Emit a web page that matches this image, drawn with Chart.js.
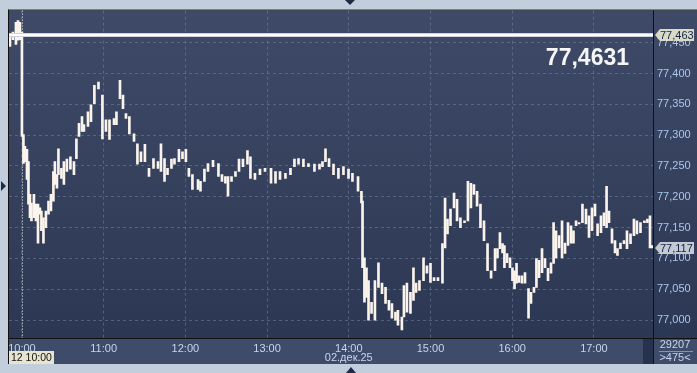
<!DOCTYPE html>
<html>
<head>
<meta charset="utf-8">
<script src="https://cdn.jsdelivr.net/npm/chart.js@4.4.1/dist/chart.umd.min.js"></script>
<style>
html, body { margin: 0; padding: 0; background: #c2cedc; overflow: hidden; }
canvas { display: block; }
</style>
</head>
<body>
<canvas id="myChart" width="697" height="373"></canvas>
<script>
// minutes after 10:00 for each high/low bar
var barMinutes = [-8.8, -6.6, -4.4, -2.9, -1.5, 0, 1.1, 2.2, 3.7, 4.8, 5.9, 7.0, 8.8, 10.3, 11.8, 13.2, 14.3, 15.8, 17.6, 19.5,
    21.3, 23.1, 24.2, 25.7, 26.8, 29.0, 30.8, 33.0, 35.6, 38.2, 40.0, 41.9, 44.1, 45.5, 48.5, 50.7, 53.2, 56.2, 59.1, 61.7,
    64.3, 67.6, 69.4, 72.0, 74.2, 76.4, 78.9, 82.3, 84.8, 87.4, 90.3, 93.3, 96.6, 99.9, 102.1, 104.7, 106.9, 109.8, 112.0, 115.3,
    117.9, 120.4, 122.6, 125.2, 129.3, 131.1, 134.0, 136.6, 140.3, 144.3, 146.9, 149.4, 151.3, 153.9, 156.8, 159.4, 162.3, 165.6, 167.8, 171.1,
    174.8, 178.5, 182.9, 186.2, 189.5, 193.5, 197.2, 200.1, 203.1, 206.7, 210.4, 214.8, 218.5, 220.7, 222.9, 225.5, 228.8, 232.4, 236.1, 239.8,
    242.7, 246.8, 249.3, 250.1, 251.5, 253.0, 254.5, 256.7, 259.2, 261.8, 264.4, 267.0, 269.5, 271.7, 274.3, 276.1, 279.0, 280.5, 282.7, 285.3,
    287.5, 289.4, 291.9, 294.9, 297.4, 300.0, 302.6, 305.5, 308.8, 310.7, 312.5, 314.7, 317.3, 319.5, 322.0, 325.0, 327.5, 329.7, 331.9, 334.2,
    336.7, 339.3, 341.9, 344.5, 347.4, 349.2, 351.0, 352.9, 354.3, 356.2, 358.4, 360.2, 361.7, 363.2, 365.0, 367.2, 369.4, 372.0, 373.8, 376.0,
    377.8, 379.7, 381.9, 384.1, 386.3, 388.5, 390.4, 392.2, 394.4, 396.6, 398.8, 401.0, 403.2, 405.0, 406.9, 409.1, 411.6, 414.2, 416.4, 418.6,
    420.8, 422.7, 425.2, 427.4, 429.3, 431.1, 433.3, 435.5, 437.3, 439.5, 442.1, 444.3, 446.9, 449.4, 451.6, 454.2, 457.1, 459.3, 461.2, 462.7];
var barLows = [77.444, 77.455, 77.447, 77.454, 77.455, 77.298, 77.254, 77.257, 77.228, 77.188, 77.166, 77.161, 77.166, 77.161, 77.125, 77.172, 77.145, 77.125, 77.150, 77.172,
    77.177, 77.193, 77.220, 77.214, 77.236, 77.230, 77.220, 77.241, 77.245, 77.236, 77.262, 77.298, 77.306, 77.306, 77.314, 77.322, 77.351, 77.375, 77.294, 77.306,
    77.293, 77.317, 77.317, 77.359, 77.343, 77.327, 77.302, 77.290, 77.253, 77.257, 77.257, 77.233, 77.246, 77.246, 77.241, 77.225, 77.236, 77.246, 77.253, 77.257,
    77.262, 77.257, 77.233, 77.212, 77.212, 77.209, 77.225, 77.241, 77.249, 77.233, 77.225, 77.222, 77.201, 77.225, 77.233, 77.241, 77.249, 77.253, 77.230, 77.228,
    77.236, 77.241, 77.222, 77.222, 77.228, 77.230, 77.236, 77.249, 77.253, 77.249, 77.249, 77.241, 77.245, 77.249, 77.257, 77.249, 77.236, 77.230, 77.236, 77.230,
    77.225, 77.209, 77.190, 77.085, 77.029, 77.037, 77.000, 77.011, 77.000, 77.053, 77.043, 77.027, 77.016, 77.003, 77.000, 76.992, 76.984, 77.005, 77.013, 77.011,
    77.032, 77.045, 77.048, 77.064, 77.076, 77.061, 77.064, 77.064, 77.060, 77.117, 77.140, 77.153, 77.182, 77.161, 77.150, 77.158, 77.161, 77.182, 77.204, 77.185,
    77.150, 77.129, 77.080, 77.068, 77.080, 77.101, 77.116, 77.109, 77.085, 77.093, 77.085, 77.064, 77.051, 77.060, 77.061, 77.060, 77.060, 77.003, 77.027, 77.045,
    77.053, 77.069, 77.077, 77.085, 77.064, 77.076, 77.092, 77.101, 77.117, 77.101, 77.108, 77.121, 77.125, 77.125, 77.153, 77.156, 77.158, 77.156, 77.134, 77.145,
    77.169, 77.137, 77.142, 77.153, 77.150, 77.158, 77.125, 77.109, 77.105, 77.116, 77.124, 77.116, 77.124, 77.137, 77.140, 77.142, 77.158, 77.158, 77.117, 77.117];
var barHighs = [77.465, 77.467, 77.483, 77.486, 77.483, 77.467, 77.301, 77.282, 77.277, 77.257, 77.204, 77.190, 77.204, 77.188, 77.188, 77.182, 77.177, 77.166, 77.177, 77.193,
    77.204, 77.241, 77.257, 77.236, 77.278, 77.246, 77.257, 77.261, 77.265, 77.257, 77.294, 77.319, 77.330, 77.317, 77.338, 77.349, 77.381, 77.386, 77.365, 77.325,
    77.325, 77.327, 77.338, 77.389, 77.365, 77.335, 77.330, 77.302, 77.286, 77.273, 77.285, 77.246, 77.262, 77.257, 77.286, 77.262, 77.246, 77.261, 77.262, 77.277,
    77.273, 77.277, 77.246, 77.236, 77.228, 77.225, 77.245, 77.254, 77.259, 77.254, 77.236, 77.233, 77.233, 77.233, 77.241, 77.261, 77.261, 77.275, 77.265, 77.238,
    77.245, 77.246, 77.246, 77.241, 77.241, 77.238, 77.246, 77.261, 77.262, 77.261, 77.254, 77.253, 77.253, 77.257, 77.278, 77.262, 77.253, 77.246, 77.249, 77.245,
    77.238, 77.233, 77.209, 77.193, 77.101, 77.085, 77.064, 77.029, 77.064, 77.093, 77.060, 77.053, 77.032, 77.027, 77.013, 77.016, 77.005, 77.056, 77.060, 77.045,
    77.085, 77.060, 77.064, 77.101, 77.088, 77.092, 77.069, 77.069, 77.124, 77.198, 77.164, 77.180, 77.206, 77.196, 77.166, 77.161, 77.225, 77.222, 77.220, 77.209,
    77.188, 77.161, 77.124, 77.080, 77.116, 77.116, 77.142, 77.124, 77.121, 77.108, 77.101, 77.085, 77.080, 77.092, 77.072, 77.072, 77.077, 77.051, 77.045, 77.053,
    77.100, 77.097, 77.116, 77.100, 77.084, 77.093, 77.158, 77.145, 77.137, 77.161, 77.125, 77.158, 77.153, 77.145, 77.161, 77.158, 77.188, 77.180, 77.169, 77.182,
    77.188, 77.156, 77.169, 77.174, 77.217, 77.177, 77.148, 77.129, 77.116, 77.125, 77.129, 77.145, 77.140, 77.164, 77.161, 77.158, 77.161, 77.164, 77.169, 77.121];

var yTicks = [77.000, 77.050, 77.100, 77.150, 77.200, 77.250, 77.300, 77.350, 77.400, 77.450];
var hourMinutes = [0, 60, 120, 180, 240, 300, 360, 420];
var hourLabels = ['10:00', '11:00', '12:00', '13:00', '14:00', '15:00', '16:00', '17:00'];
var priceLevel = 77.463;
var lastPrice = 77.117;
var bigPrice = '77,4631';
var dateLabel = '02.дек.25';
var cursorLabel = '12 10:00';
var volumeLabel = '29207';
var zoomLabel = '>475<';

function fmt(v) {
    return v.toFixed(3).replace('.', ',');
}

function tag(c, x, y, text, bg) {
    c.beginPath();
    c.moveTo(x, y);
    c.lineTo(x + 5, y - 6);
    c.lineTo(x + 39, y - 6);
    c.lineTo(x + 39, y + 6);
    c.lineTo(x + 5, y + 6);
    c.closePath();
    c.fillStyle = bg;
    c.fill();
    c.fillStyle = '#14224a';
    c.font = '11px "Liberation Sans"';
    c.textAlign = 'left';
    c.textBaseline = 'middle';
    c.fillText(text, x + 5, y + 1);
}

function tri(c, pts, color) {
    c.beginPath();
    c.moveTo(pts[0], pts[1]);
    c.lineTo(pts[2], pts[3]);
    c.lineTo(pts[4], pts[5]);
    c.closePath();
    c.fillStyle = color;
    c.fill();
}

var frame = {
    id: 'frame',
    beforeDraw: function(chart) {
        var c = chart.ctx, a = chart.chartArea, w = chart.width;
        c.save();
        c.fillStyle = '#c2cedc';
        c.fillRect(0, 0, w, chart.height);
        var g = c.createLinearGradient(0, a.top, 0, a.bottom);
        g.addColorStop(0, '#3e4a67');
        g.addColorStop(1, '#2c3853');
        c.fillStyle = g;
        c.fillRect(a.left - 1, a.top, w - a.left + 1, a.bottom - a.top);
        c.fillStyle = '#3f4c69';
        c.fillRect(a.left - 1, a.bottom, w - a.left + 1, 26);
        c.fillStyle = '#27324d';
        c.fillRect(a.right - 10, a.bottom + 1, 10, 25);
        c.fillStyle = '#111111';
        c.fillRect(a.left - 1, a.top - 1, w, 1);
        c.fillRect(a.left - 1, a.top - 1, 1, a.bottom - a.top + 27);
        c.fillRect(a.right, a.top, 1, a.bottom - a.top + 26);
        c.fillRect(a.left - 1, a.bottom, w, 1);
        c.restore();
    },
    beforeDatasetsDraw: function(chart) {
        var c = chart.ctx, a = chart.chartArea;
        var x0 = Math.round(chart.scales.x.getPixelForValue(0)) + 0.5;
        c.save();
        c.strokeStyle = '#f0f0f0';
        c.lineWidth = 1;
        c.setLineDash([1, 2]);
        c.beginPath();
        c.moveTo(x0, a.top);
        c.lineTo(x0, a.bottom);
        c.stroke();
        c.restore();
    },
    afterDraw: function(chart) {
        var c = chart.ctx, a = chart.chartArea, ys = chart.scales.y, xs = chart.scales.x;
        c.save();
        // price level line
        var py = Math.round(ys.getPixelForValue(priceLevel));
        c.fillStyle = '#cfd3dc';
        c.fillRect(a.left, py - 2, a.right - a.left, 4);
        c.fillStyle = '#ffffff';
        c.fillRect(a.left, py - 1, a.right - a.left, 2);
        tag(c, a.right + 2, py, fmt(priceLevel), '#d9dbc7');
        tag(c, a.right + 2, Math.round(ys.getPixelForValue(lastPrice)), fmt(lastPrice), '#c5c9d1');

        c.fillStyle = '#f5f5f5';
        c.font = 'bold 23px "Liberation Sans"';
        c.textAlign = 'right';
        c.textBaseline = 'alphabetic';
        c.fillText(bigPrice, a.right - 24, 65);

        c.font = '11px "Liberation Sans"';
        c.fillStyle = '#c6d6ec';
        c.textAlign = 'center';
        c.textBaseline = 'middle';
        c.fillText(dateLabel, xs.getPixelForValue(240), a.bottom + 20);
        c.fillText(volumeLabel, a.right + 22, a.bottom + 7);
        c.fillText(zoomLabel, a.right + 22, a.bottom + 20);
        c.fillStyle = '#8494ad';
        c.fillRect(a.right + 6, a.bottom + 13, 34, 1);

        c.fillStyle = '#e7e5cf';
        c.fillRect(a.left, a.bottom + 13, 45, 13);
        c.fillStyle = '#111111';
        c.textAlign = 'left';
        c.font = '10.5px "Liberation Sans"';
        c.fillText(cursorLabel, a.left + 2, a.bottom + 20);

        tri(c, [345, 0, 355, 0, 350, 5], '#1f2a44');
        tri(c, [346, 373, 356, 373, 351, 367], '#1f2a44');
        tri(c, [1, 181, 6, 186, 1, 191], '#1f2a44');
        c.restore();
    }
};

var ctx = document.getElementById('myChart').getContext('2d');
var myChart = new Chart(ctx, {
    type: 'bar',
    data: {
        datasets: [{
            data: barMinutes.map(function(m, i) { return { x: m, y: [barLows[i], barHighs[i]] }; }),
            backgroundColor: '#fbf4ec',
            borderWidth: 0,
            barThickness: 2,
            minBarLength: 1
        }]
    },
    options: {
        responsive: false,
        animation: false,
        devicePixelRatio: 1,
        layout: { padding: { left: 9, top: 8, right: 0, bottom: 0 } },
        plugins: { legend: { display: false }, tooltip: { enabled: false } },
        scales: {
            x: {
                type: 'linear',
                offset: false,
                min: -9.5,
                max: 463.4,
                afterFit: function(s) { s.height = 35; },
                afterBuildTicks: function(s) { s.ticks = hourMinutes.map(function(v) { return { value: v }; }); },
                grid: { color: 'rgba(120,136,168,0.5)', drawTicks: false, offset: false },
                border: { display: false, dash: [3, 3] },
                ticks: {
                    autoSkip: false,
                    maxRotation: 0,
                    padding: 4,
                    color: '#c6d6ec',
                    font: { family: 'Liberation Sans', size: 11 },
                    callback: function(v) { return hourLabels[hourMinutes.indexOf(v)]; }
                }
            },
            y: {
                position: 'right',
                min: 76.971,
                max: 77.502,
                afterFit: function(s) { s.width = 44; },
                afterBuildTicks: function(s) { s.ticks = yTicks.map(function(v) { return { value: v }; }); },
                grid: { color: 'rgba(120,136,168,0.5)', drawTicks: false },
                border: { display: false, dash: [3, 3] },
                ticks: {
                    padding: 4,
                    color: '#a9c8ef',
                    font: { family: 'Liberation Sans', size: 11 },
                    callback: function(v) { return fmt(v); }
                }
            }
        }
    },
    plugins: [frame]
});
</script>
</body>
</html>
